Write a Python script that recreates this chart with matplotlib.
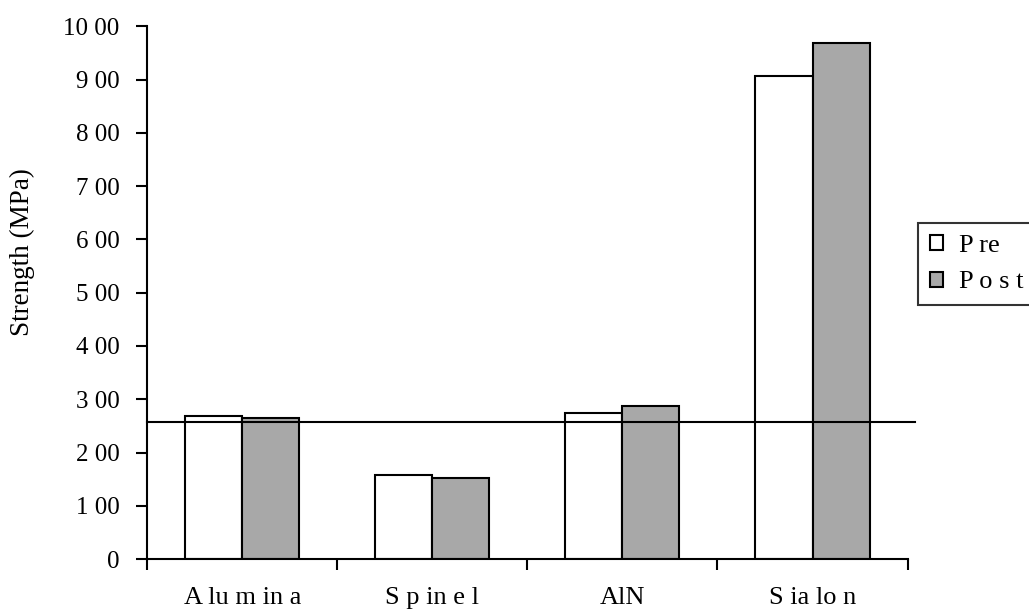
import matplotlib
matplotlib.use('Agg')
from matplotlib import pyplot as plt
import numpy as np

# data
categories = ['A lu m in a', 'S p in e l', 'AlN', 'S ia lo n']
pre = [268, 158, 274, 906]
post = [265, 152, 287, 968]
ref_level = 258
y_ticks = [0, 100, 200, 300, 400, 500, 600, 700, 800, 900, 1000]
y_tick_labels = ['0', '1 00', '2 00', '3 00', '4 00', '5 00', '6 00', '7 00', '8 00', '9 00', '10 00']

plt.rcParams['font.family'] = ['Liberation Serif', 'DejaVu Serif']

fig = plt.figure(figsize=(10.29, 6.11), dpi=100)
ax = fig.add_axes([0.143, 0.085, 0.739, 0.872])

x = np.arange(len(categories))
w = 0.3
ax.bar(x - w / 2, pre, w, color='white', edgecolor='black', linewidth=1.5, label='P re')
ax.bar(x + w / 2, post, w, color='#a8a8a8', edgecolor='black', linewidth=1.5, label='P o s t')
ax.axhline(ref_level, color='black', linewidth=1.5, clip_on=False, xmax=1.01)

ax.set_xlim(-0.5, len(categories) - 0.5)
ax.set_ylim(0, 1000)
ax.set_yticks(y_ticks)
ax.set_yticklabels(y_tick_labels, fontsize=18)
ax.set_xticks(x)
ax.set_xticklabels(categories, fontsize=19)
ax.set_xticks(np.arange(len(categories) + 1) - 0.5, minor=True)
ax.tick_params(axis='x', which='major', length=0, pad=20)
ax.tick_params(axis='x', which='minor', length=8, width=1.5, direction='out')
ax.tick_params(axis='y', length=8, width=1.5, direction='out', pad=12)
ax.set_ylabel('Strength (MPa)', fontsize=19.5)
ax.yaxis.set_label_coords(-0.147, 0.576)

for s in ['top', 'right']:
    ax.spines[s].set_visible(False)
for s in ['left', 'bottom']:
    ax.spines[s].set_linewidth(1.5)

leg = fig.legend(loc='upper left', bbox_to_anchor=(0.892, 0.635), fontsize=19,
                 frameon=True, fancybox=False, edgecolor='black', handlelength=0.5,
                 handleheight=0.5, handletextpad=0.6, borderpad=0.45, labelspacing=0.55,
                 borderaxespad=0)
leg.get_frame().set_linewidth(1.5)

plt.savefig('out.png', dpi=100)
